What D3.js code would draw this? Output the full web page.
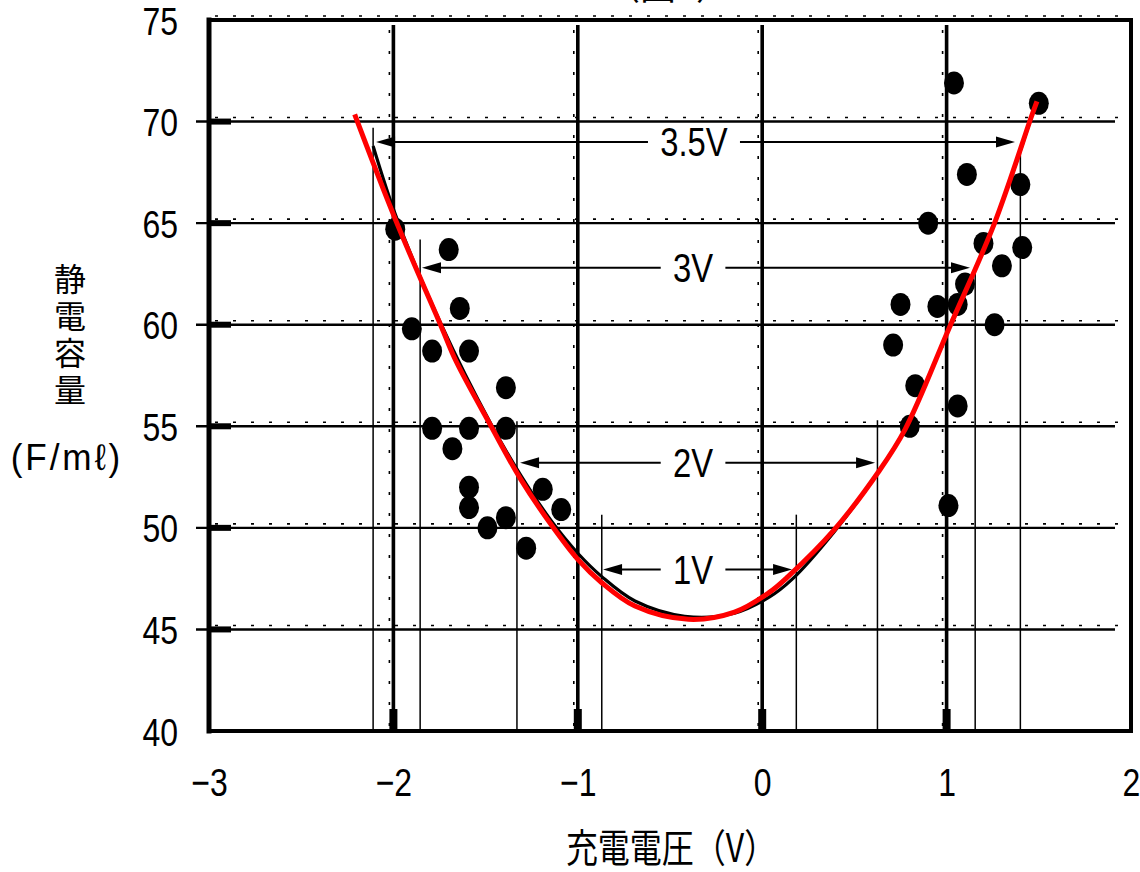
<!DOCTYPE html>
<html><head><meta charset="utf-8">
<script src="https://cdn.jsdelivr.net/npm/d3@7"></script>
<style>
html,body{margin:0;padding:0;background:#fff;}
svg{display:block;}
</style></head>
<body>
<svg id="chart" width="1140" height="872"></svg>
<script>
// ---------- data ----------
const xTicks = [-3, -2, -1, 0, 1, 2];
const xTickLabels = ["−3", "−2", "−1", "0", "1", "2"];
const yTicks = [40, 45, 50, 55, 60, 65, 70, 75];
const yTickLabels = ["40", "45", "50", "55", "60", "65", "70", "75"];
const xGridValues = [-2, -1, 0, 1];
const yGridValues = [45, 50, 55, 60, 65, 70];

// measured points (charge voltage V, capacitance F/ml)
const pointsX = [-1.99, -1.70, -1.64, -1.90, -1.79, -1.59, -1.39, -1.79, -1.59, -1.39, -1.68, -1.59, -1.59, -1.49, -1.39, -1.28, -1.19, -1.09,
                 1.04, 1.50, 1.11, 1.40, 0.90, 1.20, 1.41, 1.30, 1.10, 0.75, 0.95, 1.06, 1.26, 0.71, 0.83, 1.06, 0.80, 1.01];
const pointsY = [64.7, 63.7, 60.8, 59.8, 58.7, 58.7, 56.9, 54.9, 54.9, 54.9, 53.9, 52.0, 51.0, 50.0, 50.5, 49.0, 51.9, 50.9,
                 71.9, 70.9, 67.4, 66.9, 65.0, 64.0, 63.8, 62.9, 62.0, 61.0, 60.9, 61.0, 60.0, 59.0, 57.0, 56.0, 55.0, 51.1];

// original (black) fitted curve
const blackCurveX = [-2.11, -1.98, -1.74, -1.47, -1.31, -1.14, -1.0, -0.87, -0.69, -0.42, -0.15, 0.04, 0.16, 0.39, 0.63, 0.775, 1.017, 1.26, 1.47, 1.50];
const blackCurveY = [68.8, 65.2, 60.0, 55.1, 52.6, 50.3, 48.75, 47.6, 46.4, 45.65, 45.8, 46.6, 47.45, 49.8, 52.75, 54.85, 59.9, 65.0, 70.5, 71.4];
// red overlay curve
const redCurveX = [-2.21, -1.99, -1.74, -1.66, -1.47, -1.31, -1.14, -1.0, -0.87, -0.69, -0.40, -0.15, 0.035, 0.14, 0.39, 0.63, 0.775, 1.017, 1.26, 1.46, 1.49];
const redCurveY = [70.35, 65.2, 59.9, 58.2, 55.0, 52.4, 50.1, 48.45, 47.3, 46.15, 45.5, 45.85, 46.8, 47.6, 49.9, 52.75, 54.85, 59.9, 65.0, 70.25, 71.0];

// thin vertical guide lines (voltage window limits)
const guideX = [-2.11, -1.855, -1.33, -0.87, 0.185, 0.625, 1.155, 1.40];
const guideTop = [69.7, 64.2, 55.25, 50.65, 50.65, 55.3, 62.9, 68.6];

// voltage window arrows
const arrowLabels = ["3.5V", "3V", "2V", "1V"];
const arrowLevel = [69.0, 62.8, 53.2, 47.95];
const arrowLeft = [-2.094, -1.845, -1.313, -0.863];
const arrowRight = [1.371, 1.127, 0.612, 0.162];
const arrowLabelX = [-0.37, -0.375, -0.375, -0.375];

const xTitle = "充電電圧（V）";
const yTitle = "静電容量";
const yUnit = "(F/mℓ)";
const figTitle = "（図1）";

// ---------- drawing ----------
const svg = d3.select("#chart");
const LATIN = "'Liberation Sans', Arial, sans-serif";
const CJK = "'Noto Sans CJK JP', 'Noto Sans CJK SC', sans-serif";
const SX = 0.82;

const x = d3.scaleLinear().domain([-3, 2]).range([209, 1131]);
const y = d3.scaleLinear().domain([40, 75]).range([731, 20]);

function label(parent, px, py, str, opts) {
  const g = parent.append("g").attr("transform", `translate(${px},${py})`);
  const t = g.append("text")
    .attr("transform", `scale(${opts.sx || 1},1)`)
    .attr("text-anchor", opts.anchor || "middle")
    .attr("dy", opts.dy || "0")
    .style("font-family", opts.family || LATIN)
    .style("font-size", (opts.size || 39) + "px")
    .style("letter-spacing", opts.ls || "0px")
    .attr("fill", "#000")
    .text(str);
  return t;
}

// partial figure title at the very top (cut off in the original scan)
label(svg, 668, -1, figTitle, {size: 40, sx: 0.9, family: CJK});

// dotted companions of grid lines (scan texture)
const gDots = svg.append("g");
yGridValues.concat([75]).forEach(v => {
  gDots.append("line").attr("x1", 215).attr("x2", 1126)
    .attr("y1", y(v) - 4).attr("y2", y(v) - 4)
    .attr("stroke", "#000").attr("stroke-width", 1.6)
    .attr("stroke-dasharray", "3,15");
});
xGridValues.forEach(v => {
  gDots.append("line").attr("x1", x(v) - 4).attr("x2", x(v) - 4)
    .attr("y1", 30).attr("y2", 728)
    .attr("stroke", "#000").attr("stroke-width", 1.6)
    .attr("stroke-dasharray", "3,18");
});

// horizontal grid lines
const gGrid = svg.append("g");
yGridValues.forEach(v => {
  gGrid.append("line").attr("x1", 196).attr("x2", 1115)
    .attr("y1", y(v)).attr("y2", y(v))
    .attr("stroke", "#000").attr("stroke-width", 2.4);
  gGrid.append("rect").attr("x", x(-3)).attr("y", y(v) - 3)
    .attr("width", 22).attr("height", 6).attr("fill", "#000");
});
// vertical grid lines
xGridValues.forEach(v => {
  gGrid.append("line").attr("x1", x(v)).attr("x2", x(v))
    .attr("y1", 25).attr("y2", 731)
    .attr("stroke", "#000").attr("stroke-width", 3.6);
  gGrid.append("rect").attr("x", x(v) - 4).attr("y", 709)
    .attr("width", 8).attr("height", 22).attr("fill", "#000");
});

// thin guide lines
guideX.forEach((v, i) => {
  gGrid.append("line").attr("x1", x(v)).attr("x2", x(v))
    .attr("y1", y(guideTop[i])).attr("y2", 731)
    .attr("stroke", "#000").attr("stroke-width", 1.5);
});

// plot frame
const frame = svg.append("g").attr("stroke", "#000").attr("stroke-linecap", "square");
frame.append("line").attr("x1", x(-3)).attr("x2", x(2)).attr("y1", y(75)).attr("y2", y(75)).attr("stroke-width", 4);
frame.append("line").attr("x1", x(-3)).attr("x2", x(2)).attr("y1", y(40)).attr("y2", y(40)).attr("stroke-width", 4);
frame.append("line").attr("x1", x(-3)).attr("x2", x(-3)).attr("y1", y(75)).attr("y2", y(40)).attr("stroke-width", 5);
frame.append("line").attr("x1", x(2)).attr("x2", x(2)).attr("y1", y(75)).attr("y2", y(40)).attr("stroke-width", 4);

// arrows
const gArr = svg.append("g");
arrowLabels.forEach((lab, i) => {
  const yy = y(arrowLevel[i]);
  const cx = x(arrowLabelX[i]);
  const t = label(gArr, cx, yy, lab, {size: 40, sx: SX, dy: "0.36em"});
  const w = t.node().getBBox().width * SX;
  const gap = w / 2 + 12;
  const xl = x(arrowLeft[i]), xr = x(arrowRight[i]);
  gArr.append("line").attr("x1", xl + 6).attr("x2", cx - gap).attr("y1", yy).attr("y2", yy)
    .attr("stroke", "#000").attr("stroke-width", 2);
  gArr.append("line").attr("x1", cx + gap).attr("x2", xr - 6).attr("y1", yy).attr("y2", yy)
    .attr("stroke", "#000").attr("stroke-width", 2);
  gArr.append("path").attr("d", `M${xl},${yy} L${xl + 19},${yy - 5.5} L${xl + 19},${yy + 5.5} Z`).attr("fill", "#000");
  gArr.append("path").attr("d", `M${xr},${yy} L${xr - 19},${yy - 5.5} L${xr - 19},${yy + 5.5} Z`).attr("fill", "#000");
});

// points
svg.append("g").selectAll("ellipse").data(pointsX.map((v, i) => [v, pointsY[i]]))
  .join("ellipse")
  .attr("cx", d => x(d[0])).attr("cy", d => y(d[1]))
  .attr("rx", 10).attr("ry", 11.5).attr("fill", "#000");

// curves
const line = d3.line().x(d => x(d[0])).y(d => y(d[1])).curve(d3.curveCatmullRom.alpha(0.5));
svg.append("path").datum(blackCurveX.map((v, i) => [v, blackCurveY[i]]))
  .attr("d", line).attr("fill", "none").attr("stroke", "#000").attr("stroke-width", 3.2);
svg.append("path").datum(redCurveX.map((v, i) => [v, redCurveY[i]]))
  .attr("d", line).attr("fill", "none").attr("stroke", "#ff0000").attr("stroke-width", 5);

// axes (labels only)
const xAxis = d3.axisBottom(x).tickValues(xTicks).tickFormat((d, i) => xTickLabels[i]).tickSize(0).tickPadding(37);
const gx = svg.append("g").attr("transform", `translate(0,${y(40)})`).call(xAxis);
gx.select(".domain").remove();
gx.selectAll("text").style("font-family", LATIN).style("font-size", "39px").attr("fill", "#000")
  .attr("transform", `scale(${SX},1)`);

const yAxis = d3.axisLeft(y).tickValues(yTicks).tickFormat((d, i) => yTickLabels[i]).tickSize(0).tickPadding(31);
const gy = svg.append("g").attr("transform", `translate(${x(-3)},0)`).call(yAxis);
gy.select(".domain").remove();
gy.selectAll("text").style("font-family", LATIN).style("font-size", "39px").attr("fill", "#000")
  .attr("x", -31 / SX).attr("dy", "0.36em").attr("transform", `scale(${SX},1)`);

// axis titles
label(svg, 671, 862, xTitle, {size: 39, sx: SX, family: CJK});
// vertical stacked y title as one text element
svg.append("text").attr("x", 70).attr("y", 263)
  .style("writing-mode", "vertical-rl").style("text-orientation", "upright")
  .style("font-family", CJK).style("font-size", "32px").style("letter-spacing", "5px")
  .attr("fill", "#000").text(yTitle);
label(svg, 67, 457, yUnit, {size: 37, sx: 0.95, dy: "0.36em", ls: "3px"});
</script>
</body></html>
